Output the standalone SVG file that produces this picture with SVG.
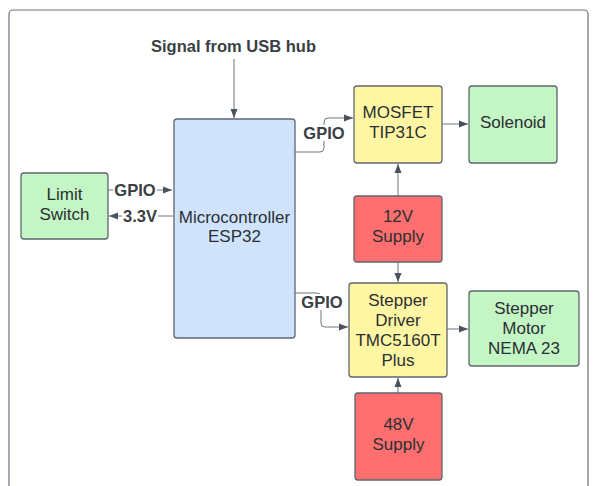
<svg xmlns="http://www.w3.org/2000/svg" width="595" height="486" viewBox="0 0 595 486">
<defs>
<marker id="ah" markerWidth="10" markerHeight="8" refX="9" refY="4" orient="auto" markerUnits="userSpaceOnUse">
<path d="M0,0.5 L9,4 L0,7.5 Z" fill="#4a525d"/>
</marker>
<style>
.node rect{stroke:#5f6670;stroke-width:1.3}
.t{font-family:"Liberation Sans",Arial,sans-serif;font-size:17px;fill:#2b2f33;text-anchor:middle}
.lbl{font-family:"Liberation Sans",Arial,sans-serif;font-size:16.5px;font-weight:bold;fill:#3a3f45;text-anchor:middle}
.c{fill:none;stroke:#6f757d;stroke-width:1;marker-end:url(#ah)}
.bg{fill:#ffffff}
</style>
</defs>
<rect x="0" y="0" width="595" height="486" fill="#ffffff"/>
<rect x="9" y="10" width="579" height="500" rx="4" fill="none" stroke="#6b7079" stroke-width="1.2"/>

<g id="connectors">
<path class="c" d="M234,59 V118"/>
<path class="c" d="M108,190 H172"/>
<path class="c" d="M173,216 H109"/>
<path class="c" d="M295,152 H320 Q324,152 324,148 V122 Q324,118 328,118 H353"/>
<path class="c" d="M295,293 H317 Q321,293 321,297 V323 Q321,327 325,327 H348"/>
<path class="c" d="M442,124 H468"/>
<path class="c" d="M398,196 V164"/>
<path class="c" d="M398,262 V282"/>
<path class="c" d="M398,393 V378"/>
<path class="c" d="M447,329 H468"/>
</g>

<g id="labels">
<text class="lbl" x="233.5" y="51.5">Signal from USB hub</text>
<rect class="bg" x="113" y="182" width="44" height="16"/>
<text class="lbl" x="135" y="196">GPIO</text>
<rect class="bg" x="122" y="208" width="36" height="16"/>
<text class="lbl" x="140" y="222">3.3V</text>
<rect class="bg" x="302" y="125" width="44" height="16"/>
<text class="lbl" x="324" y="139">GPIO</text>
<rect class="bg" x="300" y="294" width="44" height="16"/>
<text class="lbl" x="322" y="308">GPIO</text>
</g>

<g id="limit-switch" class="node">
<rect x="21" y="173" width="87" height="66" rx="3" fill="#c3f5c5"/>
<text class="t" x="64.5" y="200">Limit</text>
<text class="t" x="64.5" y="220">Switch</text>
</g>

<g id="microcontroller" class="node">
<rect x="174" y="119" width="121" height="219" rx="3" fill="#cfe3fd"/>
<text class="t" x="234.5" y="223">Microcontroller</text>
<text class="t" x="234.5" y="242">ESP32</text>
</g>

<g id="mosfet" class="node">
<rect x="354" y="86" width="88" height="77" rx="3" fill="#fff6a3"/>
<text class="t" x="398" y="118">MOSFET</text>
<text class="t" x="398" y="138">TIP31C</text>
</g>

<g id="solenoid" class="node">
<rect x="469" y="86" width="88" height="77" rx="3" fill="#c3f5c5"/>
<text class="t" x="513" y="128">Solenoid</text>
</g>

<g id="supply-12v" class="node">
<rect x="354" y="196" width="88" height="66" rx="3" fill="#ff6f6f"/>
<text class="t" x="398" y="222">12V</text>
<text class="t" x="398" y="242">Supply</text>
</g>

<g id="stepper-driver" class="node">
<rect x="349" y="283" width="98" height="94" rx="3" fill="#fff6a3"/>
<text class="t" x="398" y="306">Stepper</text>
<text class="t" x="398" y="326">Driver</text>
<text class="t" x="398" y="346">TMC5160T</text>
<text class="t" x="398" y="366">Plus</text>
</g>

<g id="stepper-motor" class="node">
<rect x="469" y="291" width="110" height="75" rx="3" fill="#c3f5c5"/>
<text class="t" x="524" y="314">Stepper</text>
<text class="t" x="524" y="334">Motor</text>
<text class="t" x="524" y="354">NEMA 23</text>
</g>

<g id="supply-48v" class="node">
<rect x="355" y="393" width="87" height="87" rx="3" fill="#ff6f6f"/>
<text class="t" x="398.5" y="430">48V</text>
<text class="t" x="398.5" y="450">Supply</text>
</g>
</svg>
